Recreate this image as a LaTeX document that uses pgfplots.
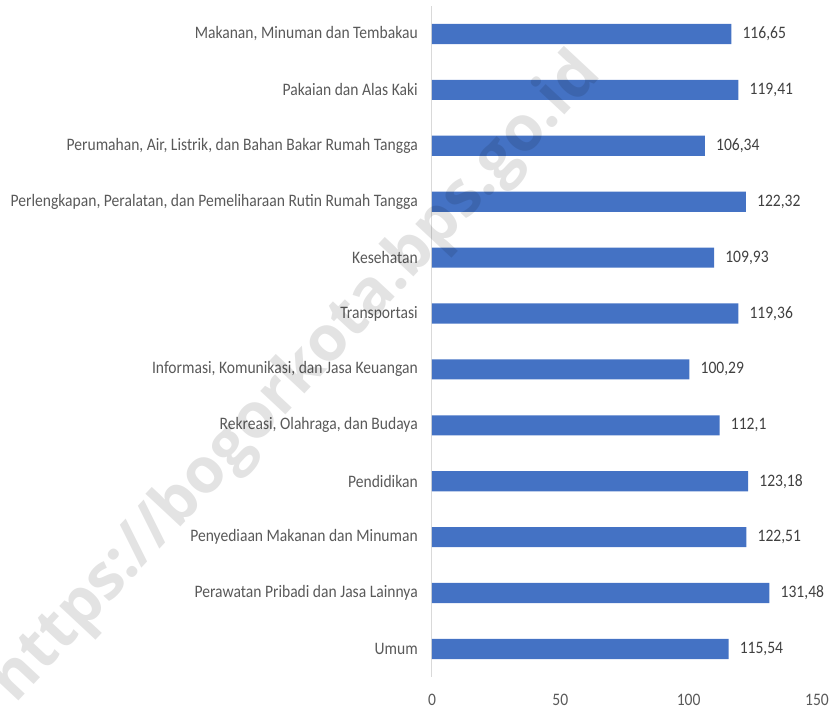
\documentclass[border=0pt]{standalone}
\usepackage{fontspec}
\setmainfont{Carlito}[FakeStretch=0.89]
\newfontfamily\wmfont{Open Sans}
\usepackage{pgfplots}
\pgfplotsset{compat=1.18}
\definecolor{barblue}{HTML}{4472C4}
\definecolor{labgray}{HTML}{595959}
\definecolor{valgray}{HTML}{404040}
\definecolor{linegray}{HTML}{D9D9D9}
\begin{document}
\begin{tikzpicture}
\begin{axis}[
  scale only axis,
  width=385bp, height=670.8bp,
  xmin=0, xmax=150, ymin=-0.5, ymax=11.5,
  y dir=reverse,
  clip=false,
  axis line style={draw=none},
  major tick length=0pt,
  xtick={0,50,100,150},
  ytick={0,...,11},
  yticklabels={{Makanan, Minuman dan Tembakau},{Pakaian dan Alas Kaki},{Perumahan, Air, Listrik, dan Bahan Bakar Rumah Tangga},{Perlengkapan, Peralatan, dan Pemeliharaan Rutin Rumah Tangga},{Kesehatan},{Transportasi},{Informasi, Komunikasi, dan Jasa Keuangan},{Rekreasi, Olahraga, dan Budaya},{Pendidikan},{Penyediaan Makanan dan Minuman},{Perawatan Pribadi dan Jasa Lainnya},{Umum}},
  /pgf/number format/assume math mode=true,
  /pgf/number format/use comma,
  /pgf/number format/1000 sep={},
  ticklabel style={font=\fontsize{17.5bp}{20bp}\selectfont, text=labgray},
  yticklabel style={inner sep=0pt, anchor=east, xshift=-14bp},
  xticklabel style={inner sep=0pt, anchor=north, yshift=-17bp},
  extra x ticks={0}, extra x tick labels={},
  extra x tick style={grid=major, major grid style={color=linegray, line width=1bp}},
  xbar, bar width=0.36,
  nodes near coords,
  nodes near coords style={font=\fontsize{17.5bp}{20bp}\selectfont, text=valgray, inner sep=0pt, anchor=west, xshift=11bp,
     /pgf/number format/fixed, /pgf/number format/precision=2},
]
\addplot[fill=barblue, draw=none] coordinates {
 (116.65,0) (119.41,1) (106.34,2) (122.32,3) (109.93,4) (119.36,5)
 (100.29,6) (112.1,7) (123.18,8) (122.51,9) (131.48,10) (115.54,11)};
\node[rotate=47, text=black, text opacity=0.11, font=\wmfont\bfseries\fontsize{63bp}{70bp}\selectfont, inner sep=0pt] at (axis cs:-52.6,6.16) {https://bogorkota.bps.go.id};
\coordinate (bl) at (axis cs:-168.29,12.093);
\coordinate (tr) at (axis cs:157.01,-0.608);
\end{axis}
\pgfresetboundingbox
\useasboundingbox (bl) rectangle (tr);
\end{tikzpicture}
\end{document}
